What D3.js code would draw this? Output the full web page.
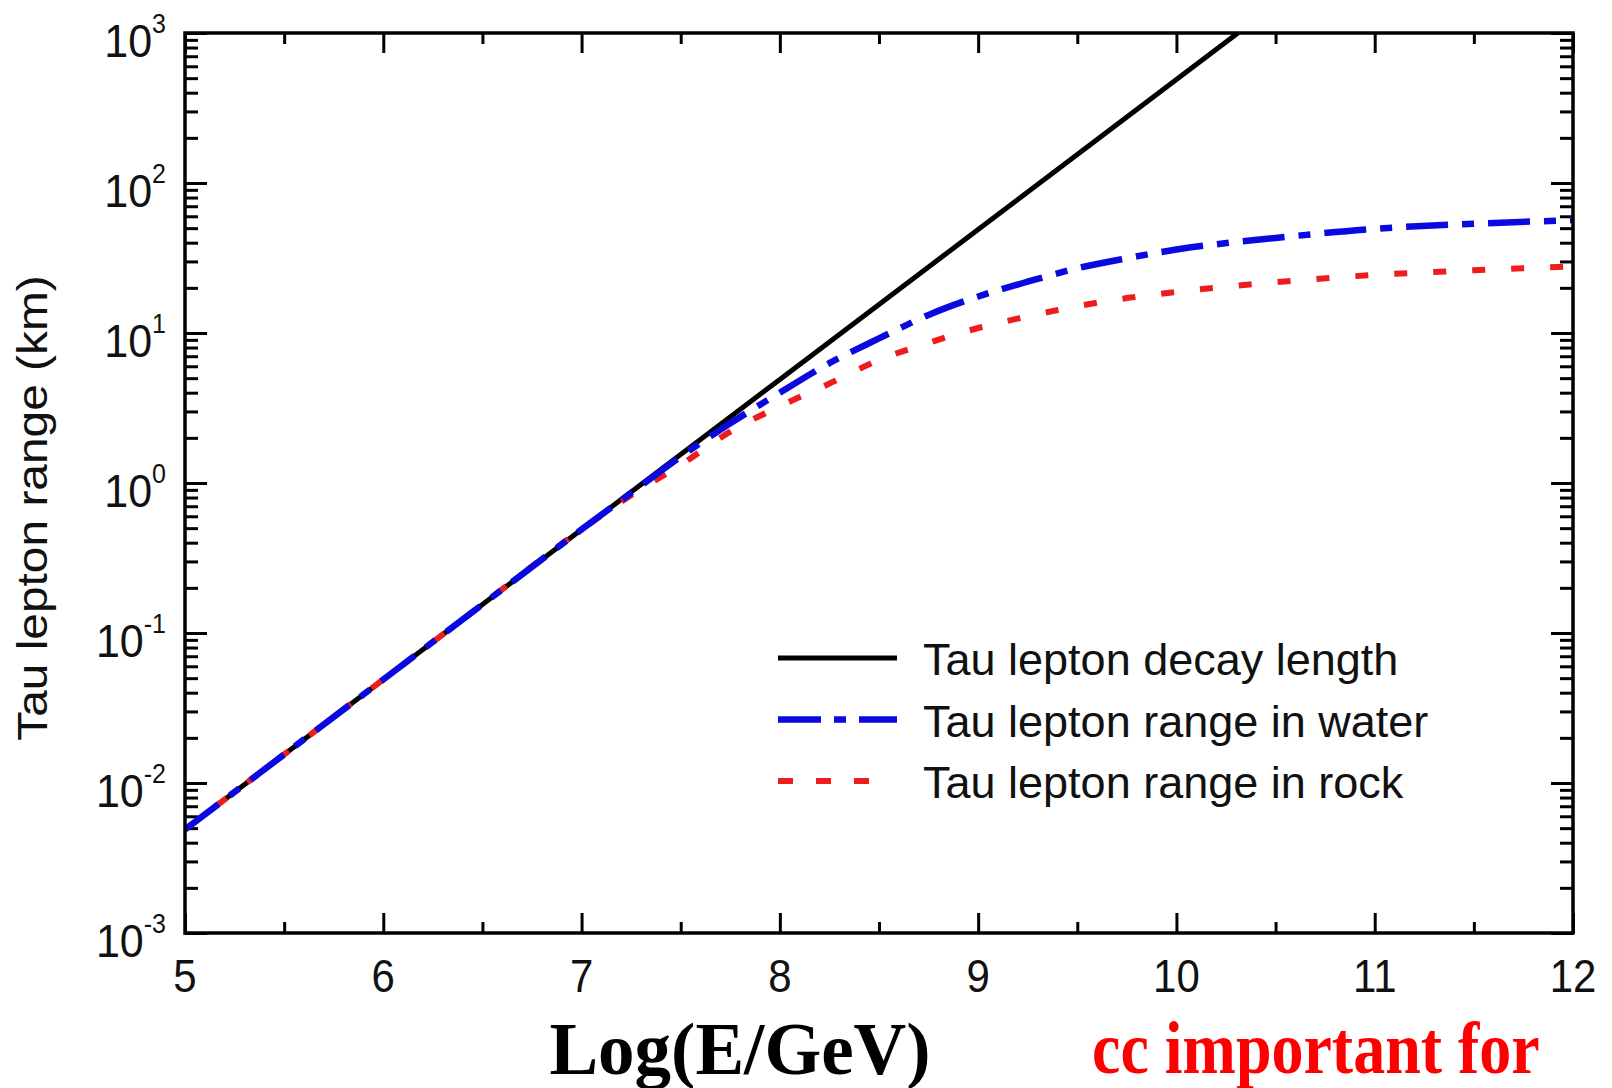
<!DOCTYPE html>
<html>
<head>
<meta charset="utf-8">
<script src="https://cdn.jsdelivr.net/npm/d3@7"></script>
<style>
  body { margin: 0; background: #fff; }
  svg { display: block; }
</style>
</head>
<body>
<div id="chart"></div>
<script>
// decay length grows linearly with energy
const decayLogE = [5, 6, 7, 8, 9, 10, 10.31];
const decayKm = [0.0049, 0.049, 0.49, 4.9, 49, 490, 1000];

// ranges in water and rock (km) on a common energy grid
const rangeLogE = [5, 5.5, 6, 6.5, 7, 7.25, 7.5, 7.75, 8, 8.25, 8.5, 8.75, 9, 9.25, 9.5, 9.75, 10, 10.5, 11, 11.5, 12];
const waterKm = [0.0049, 0.0155, 0.049, 0.155, 0.49, 0.86, 1.5, 2.5, 4.0, 6.3, 9.2, 13.2, 17.5, 22, 27, 31.5, 36, 43, 49.5, 53.5, 56.5];
const rockKm = [0.0049, 0.0155, 0.049, 0.155, 0.49, 0.83, 1.32, 2.2, 3.25, 4.6, 6.6, 8.6, 10.8, 12.9, 15.1, 17.1, 18.8, 21.8, 24.4, 26.2, 27.8];

const xTickValues = [5, 6, 7, 8, 9, 10, 11, 12];
const xMinorValues = [5.5, 6.5, 7.5, 8.5, 9.5, 10.5, 11.5];
const yExponents = [-3, -2, -1, 0, 1, 2, 3];

const legendLabels = [
  "Tau lepton decay length",
  "Tau lepton range in water",
  "Tau lepton range in rock"
];

const width = 1612;
const height = 1088;
const margin = { left: 185, right: 39, top: 33, bottom: 155 };
const plotW = width - margin.left - margin.right;
const plotH = height - margin.top - margin.bottom;
const stretch = 1.12; // tick labels are a little taller than wide

const svg = d3.select("#chart")
  .append("svg")
  .attr("width", width)
  .attr("height", height)
  .style("background", "#fff");

const x = d3.scaleLinear().domain([5, 12]).range([margin.left, margin.left + plotW]);
const y = d3.scaleLog().domain([1e-3, 1e3]).range([margin.top + plotH, margin.top]);

svg.append("clipPath").attr("id", "plot-clip")
  .append("rect")
  .attr("x", margin.left).attr("y", margin.top)
  .attr("width", plotW).attr("height", plotH);

// ticks on all four sides, pointing inward
const yAll = y.ticks();
const isMajor = (v) => Math.abs(Math.log10(v) - Math.round(Math.log10(v))) < 1e-9;

function axisTicks(axis, transform, values, size) {
  svg.append("g")
    .attr("transform", transform)
    .call(axis.tickValues(values).tickSize(size).tickFormat(""))
    .call((g) => g.select(".domain").remove())
    .call((g) => g.selectAll("line").attr("stroke", "#000").attr("stroke-width", 3));
}

axisTicks(d3.axisBottom(x), `translate(0,${margin.top + plotH})`, xTickValues, -20);
axisTicks(d3.axisBottom(x), `translate(0,${margin.top + plotH})`, xMinorValues, -11);
axisTicks(d3.axisTop(x), `translate(0,${margin.top})`, xTickValues, -20);
axisTicks(d3.axisTop(x), `translate(0,${margin.top})`, xMinorValues, -11);
axisTicks(d3.axisLeft(y), `translate(${margin.left},0)`, yAll.filter(isMajor), -22);
axisTicks(d3.axisLeft(y), `translate(${margin.left},0)`, yAll.filter((v) => !isMajor(v)), -13);
axisTicks(d3.axisRight(y), `translate(${margin.left + plotW},0)`, yAll.filter(isMajor), -22);
axisTicks(d3.axisRight(y), `translate(${margin.left + plotW},0)`, yAll.filter((v) => !isMajor(v)), -13);

// curves
const line = d3.line()
  .x((d) => x(d[0]))
  .y((d) => y(d[1]))
  .curve(d3.curveMonotoneX);

const curves = svg.append("g").attr("clip-path", "url(#plot-clip)");

curves.append("path")
  .datum(decayLogE.map((e, i) => [e, decayKm[i]]))
  .attr("d", line)
  .attr("fill", "none")
  .attr("stroke", "#000")
  .attr("stroke-width", 5);

curves.append("path")
  .datum(rangeLogE.map((e, i) => [e, rockKm[i]]))
  .attr("d", line)
  .attr("fill", "none")
  .attr("stroke", "#ee1c1c")
  .attr("stroke-width", 6)
  .attr("stroke-dasharray", "13,26");

curves.append("path")
  .datum(rangeLogE.map((e, i) => [e, waterKm[i]]))
  .attr("d", line)
  .attr("fill", "none")
  .attr("stroke", "#0a0ae0")
  .attr("stroke-width", 6.5)
  .attr("stroke-dasharray", "42,14,12,14");

// frame
svg.append("rect")
  .attr("x", margin.left).attr("y", margin.top)
  .attr("width", plotW).attr("height", plotH)
  .attr("fill", "none")
  .attr("stroke", "#000")
  .attr("stroke-width", 3.5);

// tick labels
const labelFont = "'Liberation Sans', Arial, Helvetica, sans-serif";

svg.append("g")
  .selectAll("text")
  .data(xTickValues)
  .join("text")
  .attr("transform", (d) => `translate(${x(d)},${margin.top + plotH + 59}) scale(1,${stretch})`)
  .attr("text-anchor", "middle")
  .attr("font-family", labelFont)
  .attr("font-size", 42)
  .attr("fill", "#111")
  .text((d) => d);

const yLabels = svg.append("g")
  .selectAll("text")
  .data(yExponents)
  .join("text")
  .attr("transform", (d) => `translate(166,${y(Math.pow(10, d)) + 24}) scale(1,1.08)`)
  .attr("text-anchor", "end")
  .attr("font-family", labelFont)
  .attr("fill", "#111");

yLabels.append("tspan").attr("font-size", 43).text("10");
yLabels.append("tspan")
  .attr("font-size", 25)
  .attr("dy", -22)
  .text((d) => d);

// axis titles
svg.append("text")
  .attr("transform", `translate(47,508) rotate(-90) scale(${stretch + 0.02},1)`)
  .attr("text-anchor", "middle")
  .attr("font-family", labelFont)
  .attr("font-size", 42)
  .attr("fill", "#111")
  .text("Tau lepton range (km)");

svg.append("text")
  .attr("transform", `translate(740,1074) scale(1,1.0)`)
  .attr("text-anchor", "middle")
  .attr("font-family", "'Liberation Serif', 'Times New Roman', serif")
  .attr("font-weight", "bold")
  .attr("font-size", 73)
  .attr("fill", "#000")
  .text("Log(E/GeV)");

svg.append("text")
  .attr("transform", `translate(1092,1073) scale(1,1.15)`)
  .attr("font-family", "'Liberation Serif', 'Times New Roman', serif")
  .attr("font-weight", "bold")
  .attr("font-size", 64)
  .attr("fill", "#ff0000")
  .text("cc important for");

// legend
const legendStyles = [
  { stroke: "#000", width: 5, dash: null, end: 897 },
  { stroke: "#0a0ae0", width: 6.5, dash: "43,13,12,13", end: 897 },
  { stroke: "#ee1c1c", width: 6, dash: "15,23", end: 870 }
];
const legendRowY = d3.scalePoint().domain(legendLabels).range([658, 781]);

const legend = svg.append("g")
  .selectAll("g")
  .data(legendLabels)
  .join("g")
  .attr("transform", (d) => `translate(0,${legendRowY(d)})`);

legend.append("line")
  .attr("x1", 778)
  .attr("x2", (d, i) => legendStyles[i].end)
  .attr("y1", 0).attr("y2", 0)
  .attr("stroke", (d, i) => legendStyles[i].stroke)
  .attr("stroke-width", (d, i) => legendStyles[i].width)
  .attr("stroke-dasharray", (d, i) => legendStyles[i].dash);

legend.append("text")
  .attr("transform", "translate(923,17)")
  .attr("font-family", labelFont)
  .attr("font-size", 45)
  .attr("fill", "#111")
  .text((d) => d);
</script>
</body>
</html>
